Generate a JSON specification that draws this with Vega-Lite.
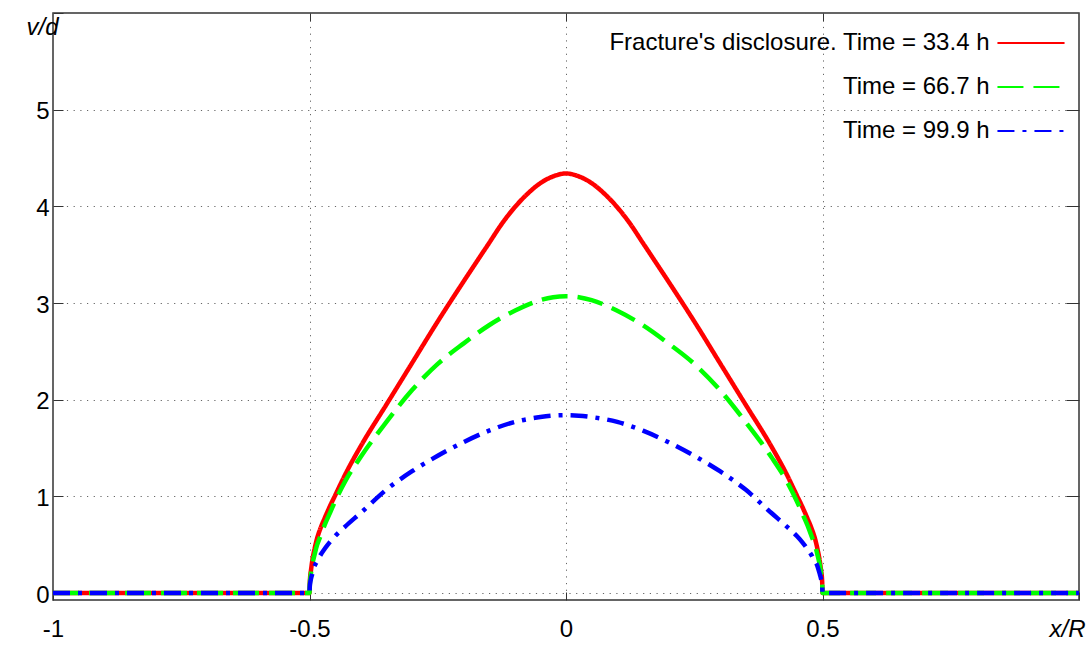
{
  "$schema": "https://vega.github.io/schema/vega-lite/v6.json",
  "autosize": {"type": "none"},
  "width": 1026,
  "height": 587,
  "padding": {"left": 53, "top": 13, "right": 12, "bottom": 48},
  "background": "white",
  "config": {
    "view": {"stroke": "#333333", "strokeWidth": 1.5},
    "font": "Liberation Sans",
    "axis": {"labelFont": "Liberation Sans", "labelFontSize": 24, "labelColor": "black", "title": null}
  },
  "data": {"values": [
    {"t":"33.4","x":-1,"v":0},{"t":"33.4","x":-0.5,"v":0},{"t":"33.4","x":-0.4995,"v":0.10},{"t":"33.4","x":-0.499,"v":0.15},{"t":"33.4","x":-0.497,"v":0.24},{"t":"33.4","x":-0.495,"v":0.32},{"t":"33.4","x":-0.49,"v":0.46},{"t":"33.4","x":-0.485,"v":0.57},{"t":"33.4","x":-0.48,"v":0.65},{"t":"33.4","x":-0.47,"v":0.78},{"t":"33.4","x":-0.46,"v":0.90},{"t":"33.4","x":-0.45,"v":1.01},{"t":"33.4","x":-0.43,"v":1.23},{"t":"33.4","x":-0.4,"v":1.52},{"t":"33.4","x":-0.35,"v":1.95},{"t":"33.4","x":-0.3,"v":2.38},{"t":"33.4","x":-0.25,"v":2.81},{"t":"33.4","x":-0.2,"v":3.22},{"t":"33.4","x":-0.15,"v":3.62},{"t":"33.4","x":-0.125,"v":3.82},{"t":"33.4","x":-0.1,"v":3.99},{"t":"33.4","x":-0.075,"v":4.13},{"t":"33.4","x":-0.05,"v":4.24},{"t":"33.4","x":-0.025,"v":4.31},{"t":"33.4","x":0,"v":4.34},{"t":"33.4","x":0.025,"v":4.31},{"t":"33.4","x":0.05,"v":4.24},{"t":"33.4","x":0.075,"v":4.13},{"t":"33.4","x":0.1,"v":3.99},{"t":"33.4","x":0.125,"v":3.82},{"t":"33.4","x":0.15,"v":3.62},{"t":"33.4","x":0.2,"v":3.22},{"t":"33.4","x":0.25,"v":2.81},{"t":"33.4","x":0.3,"v":2.38},{"t":"33.4","x":0.35,"v":1.95},{"t":"33.4","x":0.4,"v":1.52},{"t":"33.4","x":0.43,"v":1.23},{"t":"33.4","x":0.45,"v":1.01},{"t":"33.4","x":0.46,"v":0.90},{"t":"33.4","x":0.47,"v":0.78},{"t":"33.4","x":0.48,"v":0.65},{"t":"33.4","x":0.485,"v":0.57},{"t":"33.4","x":0.49,"v":0.46},{"t":"33.4","x":0.495,"v":0.32},{"t":"33.4","x":0.497,"v":0.24},{"t":"33.4","x":0.499,"v":0.15},{"t":"33.4","x":0.4995,"v":0.10},{"t":"33.4","x":0.5,"v":0},{"t":"33.4","x":1,"v":0},
    {"t":"66.7","x":-1,"v":0},{"t":"66.7","x":-0.5,"v":0},{"t":"66.7","x":-0.4995,"v":0.08},{"t":"66.7","x":-0.499,"v":0.12},{"t":"66.7","x":-0.497,"v":0.21},{"t":"66.7","x":-0.495,"v":0.28},{"t":"66.7","x":-0.49,"v":0.40},{"t":"66.7","x":-0.485,"v":0.50},{"t":"66.7","x":-0.48,"v":0.57},{"t":"66.7","x":-0.47,"v":0.71},{"t":"66.7","x":-0.46,"v":0.83},{"t":"66.7","x":-0.45,"v":0.95},{"t":"66.7","x":-0.43,"v":1.16},{"t":"66.7","x":-0.4,"v":1.41},{"t":"66.7","x":-0.35,"v":1.77},{"t":"66.7","x":-0.3,"v":2.10},{"t":"66.7","x":-0.25,"v":2.37},{"t":"66.7","x":-0.2,"v":2.58},{"t":"66.7","x":-0.15,"v":2.77},{"t":"66.7","x":-0.1,"v":2.92},{"t":"66.7","x":-0.05,"v":3.03},{"t":"66.7","x":-0.025,"v":3.06},{"t":"66.7","x":0,"v":3.07},{"t":"66.7","x":0.025,"v":3.06},{"t":"66.7","x":0.05,"v":3.03},{"t":"66.7","x":0.1,"v":2.92},{"t":"66.7","x":0.15,"v":2.77},{"t":"66.7","x":0.2,"v":2.58},{"t":"66.7","x":0.25,"v":2.37},{"t":"66.7","x":0.3,"v":2.10},{"t":"66.7","x":0.35,"v":1.77},{"t":"66.7","x":0.4,"v":1.41},{"t":"66.7","x":0.43,"v":1.16},{"t":"66.7","x":0.45,"v":0.95},{"t":"66.7","x":0.46,"v":0.83},{"t":"66.7","x":0.47,"v":0.71},{"t":"66.7","x":0.48,"v":0.57},{"t":"66.7","x":0.485,"v":0.50},{"t":"66.7","x":0.49,"v":0.40},{"t":"66.7","x":0.495,"v":0.28},{"t":"66.7","x":0.497,"v":0.21},{"t":"66.7","x":0.499,"v":0.12},{"t":"66.7","x":0.4995,"v":0.08},{"t":"66.7","x":0.5,"v":0},{"t":"66.7","x":1,"v":0},
    {"t":"99.9","x":-1,"v":0},{"t":"99.9","x":-0.5,"v":0},{"t":"99.9","x":-0.4995,"v":0.06},{"t":"99.9","x":-0.499,"v":0.09},{"t":"99.9","x":-0.497,"v":0.15},{"t":"99.9","x":-0.495,"v":0.19},{"t":"99.9","x":-0.49,"v":0.28},{"t":"99.9","x":-0.485,"v":0.33},{"t":"99.9","x":-0.48,"v":0.38},{"t":"99.9","x":-0.47,"v":0.46},{"t":"99.9","x":-0.46,"v":0.53},{"t":"99.9","x":-0.45,"v":0.59},{"t":"99.9","x":-0.43,"v":0.69},{"t":"99.9","x":-0.4,"v":0.83},{"t":"99.9","x":-0.35,"v":1.07},{"t":"99.9","x":-0.3,"v":1.26},{"t":"99.9","x":-0.25,"v":1.42},{"t":"99.9","x":-0.2,"v":1.56},{"t":"99.9","x":-0.15,"v":1.68},{"t":"99.9","x":-0.1,"v":1.77},{"t":"99.9","x":-0.05,"v":1.82},{"t":"99.9","x":-0.025,"v":1.835},{"t":"99.9","x":0,"v":1.84},{"t":"99.9","x":0.025,"v":1.835},{"t":"99.9","x":0.05,"v":1.82},{"t":"99.9","x":0.1,"v":1.77},{"t":"99.9","x":0.15,"v":1.68},{"t":"99.9","x":0.2,"v":1.56},{"t":"99.9","x":0.25,"v":1.42},{"t":"99.9","x":0.3,"v":1.26},{"t":"99.9","x":0.35,"v":1.07},{"t":"99.9","x":0.4,"v":0.83},{"t":"99.9","x":0.43,"v":0.69},{"t":"99.9","x":0.45,"v":0.59},{"t":"99.9","x":0.46,"v":0.53},{"t":"99.9","x":0.47,"v":0.46},{"t":"99.9","x":0.48,"v":0.38},{"t":"99.9","x":0.485,"v":0.33},{"t":"99.9","x":0.49,"v":0.28},{"t":"99.9","x":0.495,"v":0.19},{"t":"99.9","x":0.497,"v":0.15},{"t":"99.9","x":0.499,"v":0.09},{"t":"99.9","x":0.4995,"v":0.06},{"t":"99.9","x":0.5,"v":0},{"t":"99.9","x":1,"v":0}
  ]},
  "resolve": {"axis": {"x": "independent", "y": "independent"}},
  "layer": [
    {
      "mark": {"type": "line", "strokeWidth": 4.5, "strokeCap": "butt", "strokeJoin": "round", "interpolate": "monotone", "clip": true},
      "encoding": {
        "x": {"field": "x", "type": "quantitative",
          "scale": {"domain": [-1, 1], "nice": false, "zero": false},
          "axis": {"orient": "bottom", "values": [-1, -0.5, 0, 0.5, 1], "domain": false,
            "grid": true, "gridColor": "#666666", "gridDash": [1.2, 5.5], "gridWidth": 1,
            "tickSize": -8, "tickColor": "#333333", "tickWidth": 1,
            "labelPadding": 25, "labelBaseline": "top", "labelFlush": false,
            "labelExpr": "datum.value == 1 ? 'x/R' : '' + datum.value",
            "labelFontStyle": {"condition": {"test": "datum.value == 1", "value": "italic"}, "value": "normal"},
            "labelOffset": {"condition": {"test": "datum.value == 1", "value": -12}, "value": 0}
          }
        },
        "y": {"field": "v", "type": "quantitative",
          "scale": {"domain": [-0.072, 6], "nice": false, "zero": false},
          "axis": {"orient": "left", "values": [0, 1, 2, 3, 4, 5, 6], "domain": false,
            "grid": true, "gridColor": "#666666", "gridDash": [1.2, 5.5], "gridWidth": 1,
            "tickSize": -10, "tickColor": "#333333", "tickWidth": 1,
            "labelBaseline": "middle", "labelFlush": false,
            "labelExpr": "datum.value == 6 ? 'v/d' : '' + datum.value",
            "labelFontStyle": {"condition": {"test": "datum.value == 6", "value": "italic"}, "value": "normal"},
            "labelOffset": {"condition": {"test": "datum.value == 6", "value": 14}, "value": 2},
            "labelPadding": {"condition": {"test": "datum.value == 6", "value": 5}, "value": 14}
          }
        },
        "color": {"field": "t", "type": "nominal",
          "scale": {"domain": ["33.4", "66.7", "99.9"], "range": ["#ff0000", "#00ff00", "#0000ff"]},
          "legend": {"orient": "top-right", "offset": 10, "title": " ", "titleFontSize": 1, "titlePadding": 7, "padding": 0,
            "labelFont": "Liberation Sans", "labelFontSize": 24, "labelColor": "black",
            "labelAlign": "right", "labelOffset": -53.5, "labelLimit": 1000,
            "symbolType": "M-6.1,0H6.1", "symbolSize": 121, "symbolStrokeWidth": 2, "rowPadding": 20,
            "labelExpr": "datum.value == '33.4' ? \"Fracture's disclosure. Time = 33.4 h\" : 'Time = ' + datum.value + ' h'",
            "encode": {"symbols": {"update": {
              "strokeDash": {"signal": "datum.value == '66.7' ? [14, 9] : datum.value == '99.9' ? [7, 4, 2, 4] : [1, 0]"},
              "strokeWidth": {"value": 2},
              "fill": {"value": "transparent"}
            }}}
          }
        },
        "strokeDash": {"field": "t", "type": "nominal",
          "scale": {"domain": ["33.4", "66.7", "99.9"], "range": [[1, 0], [26, 10], [17, 8, 4, 8]]},
          "legend": null
        }
      }
    },
    {
      "mark": {"type": "line", "opacity": 0},
      "encoding": {
        "x": {"field": "x", "type": "quantitative",
          "scale": {"domain": [-1, 1], "nice": false, "zero": false},
          "axis": {"orient": "top", "values": [-0.5, 0, 0.5], "domain": false, "grid": false, "labels": false,
            "tickSize": -8, "tickColor": "#333333", "tickWidth": 1}
        },
        "y": {"field": "v", "type": "quantitative",
          "scale": {"domain": [-0.072, 6], "nice": false, "zero": false},
          "axis": {"orient": "right", "values": [1, 2, 3, 4, 5], "domain": false, "grid": false, "labels": false,
            "tickSize": -13, "tickColor": "#333333", "tickWidth": 1}
        }
      }
    }
  ]
}
